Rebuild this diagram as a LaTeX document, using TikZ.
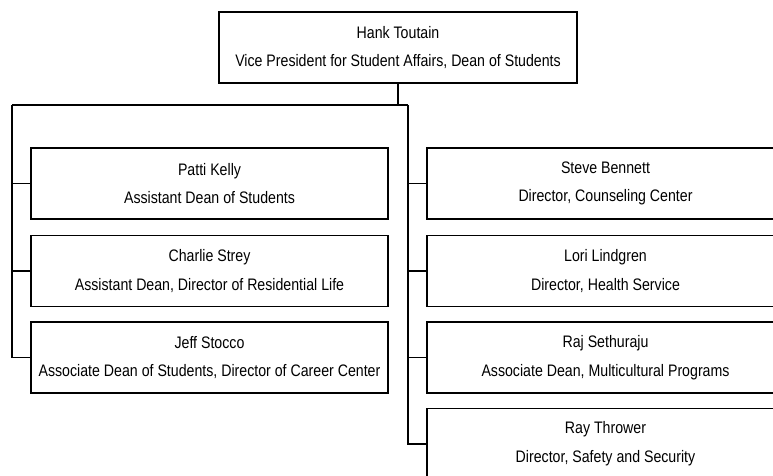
\documentclass[tikz,border=0pt]{standalone}
\usepackage{fontspec}
\setmainfont{Liberation Sans}[FakeStretch=0.85]
\usetikzlibrary{positioning}

\tikzset{
  staff/.style={draw, line width=1pt, minimum width=267.75pt, minimum height=53.25pt,
    align=center, inner sep=0pt, font=\fontsize{12.5}{21.5}\selectfont},
  link/.style={line width=1pt}
}

\begin{document}
\begin{tikzpicture}[x=0.75pt,y=-0.75pt]
            \clip (0,0) rectangle (773,475);
            \node[staff, minimum width=268.5pt] (vp) at (398,47.5) {Hank Toutain\\Vice President for Student Affairs, Dean of Students};
            % left column
            \node[staff] (pk) at (209.5,183.5) {Patti Kelly\\Assistant Dean of Students};
            \node[staff] (cs) at (209.5,271) {Charlie Strey\\Assistant Dean, Director of Residential Life};
            \node[staff] (js) at (209.5,357.5) {Jeff Stocco\\Associate Dean of Students, Director of Career Center};
            % right column
            \node[staff] (sb) at (605.5,183.5) {Steve Bennett\\Director, Counseling Center};
            \node[staff] (ll) at (605.5,271) {Lori Lindgren\\Director, Health Service};
            \node[staff] (rs) at (605.5,357.5) {Raj Sethuraju\\Associate Dean, Multicultural Programs};
            \node[staff] (rt) at (605.5,444) {Ray Thrower\\Director, Safety and Security};
            \coordinate (lbar) at (12,105);
            \coordinate (rbar) at (408,105);
            \draw[link] (vp) -- (vp |- lbar);
            \draw[link] (lbar) -- (rbar);
            \draw[link] (lbar) |- (js.west);
            \draw[link] (pk.west) -- (pk.west -| lbar);
            \draw[link] (cs.west) -- (cs.west -| lbar);
            \draw[link] (rbar) |- (rt.west);
            \draw[link] (sb.west) -- (sb.west -| rbar);
            \draw[link] (ll.west) -- (ll.west -| rbar);
            \draw[link] (rs.west) -- (rs.west -| rbar);
        \end{tikzpicture}
\end{document}
